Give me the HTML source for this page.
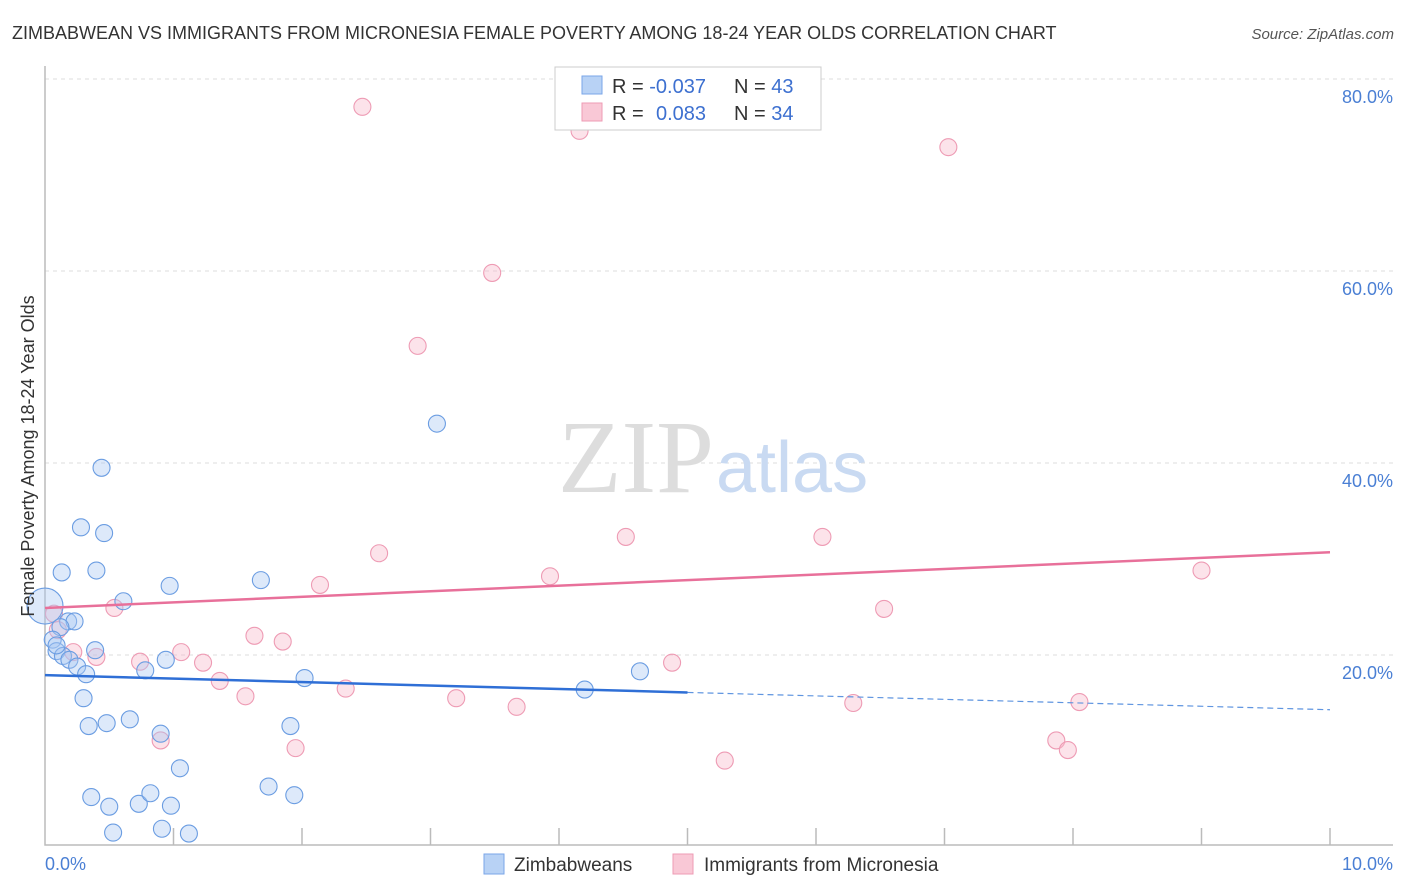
<!DOCTYPE html>
<html><head><meta charset="utf-8"><style>
body{margin:0;background:#fff;font-family:"Liberation Sans",sans-serif;}
svg{display:block}
</style></head><body>
<svg width="1406" height="892" xmlns="http://www.w3.org/2000/svg">
<text x="12" y="39" font-size="18" fill="#333">ZIMBABWEAN VS IMMIGRANTS FROM MICRONESIA FEMALE POVERTY AMONG 18-24 YEAR OLDS CORRELATION CHART</text>
<text x="1394" y="39" font-size="15" fill="#555" font-style="italic" text-anchor="end">Source: ZipAtlas.com</text>
<g id="grid"></g>
<text x="714" y="492" font-size="104" fill="#ddd" text-anchor="end" font-family="Liberation Serif,serif">ZIP</text>
<text x="716" y="492" font-size="72" fill="#c9daf2">atlas</text>
<g id="marks"></g>
<text transform="translate(34,456) rotate(-90)" font-size="18" fill="#333" text-anchor="middle">Female Poverty Among 18-24 Year Olds</text>
<g>
<rect x="555" y="67" width="266" height="63" fill="#fff" stroke="#ccc"/>
<rect x="582" y="76" width="20" height="18" fill="#b8d2f5" stroke="#7aa6e8"/>
<rect x="582" y="103" width="20" height="18" fill="#f9c8d6" stroke="#ee9bb4"/>
<text x="612" y="93" font-size="20" fill="#333">R = <tspan fill="#3d70d0">-0.037</tspan></text>
<text x="734" y="93" font-size="20" fill="#333">N = <tspan fill="#3d70d0">43</tspan></text>
<text x="612" y="120" font-size="20" fill="#333">R = <tspan x="656" fill="#3d70d0">0.083</tspan></text>
<text x="734" y="120" font-size="20" fill="#333">N = <tspan fill="#3d70d0">34</tspan></text>
</g>
<g>
<rect x="484" y="854" width="20" height="20" fill="#b8d2f5" stroke="#7aa6e8"/>
<text x="514" y="871" font-size="19" fill="#333">Zimbabweans</text>
<rect x="673" y="854" width="20" height="20" fill="#f9c8d6" stroke="#ee9bb4"/>
<text x="704" y="871" font-size="19" fill="#333">Immigrants from Micronesia</text>
</g>
<text x="45" y="870" font-size="18" fill="#4a7fd4">0.0%</text>
<text x="1393" y="870" font-size="18" fill="#4a7fd4" text-anchor="end">10.0%</text>
</svg>
<script>
const yTicks=[20,40,60,80];
const yTickLabels=["20.0%","40.0%","60.0%","80.0%"];
const blueX=[0.44,3.05,0.28,0.46,0.13,0.40,0.97,1.68,0.61,0.18,0.23,0.12,0.06,0.09,0.39,0.14,0.19,0.25,0.32,0.78,0.94,2.02,4.20,4.63,0.30,0.34,0.48,0.66,0.90,1.91,1.05,1.74,1.94,0.36,0.50,0.73,0.82,0.98,0.53,0.91,1.12,0.09];
const blueY=[39.5,44.1,33.3,32.7,28.6,28.8,27.2,27.8,25.6,23.5,23.5,22.9,21.6,20.4,20.5,19.9,19.5,18.8,18.0,18.4,19.5,17.6,16.4,18.3,15.5,12.6,12.9,13.3,11.8,12.6,8.2,6.3,5.4,5.2,4.2,4.5,5.6,4.3,1.5,1.9,1.4,21.0];
const blueBigX=[0.0], blueBigY=[25.1];
const pinkX=[2.47,4.16,7.03,3.48,2.90,2.60,4.52,6.05,3.93,2.14,9.00,6.53,0.54,0.07,0.10,1.63,1.85,0.22,0.40,1.06,0.74,1.23,4.88,1.36,1.56,2.34,3.20,3.67,6.29,8.05,0.90,1.95,5.29,7.87,7.96];
const pinkY=[77.1,74.6,72.9,59.8,52.2,30.6,32.3,32.3,28.2,27.3,28.8,24.8,24.9,24.3,22.6,22.0,21.4,20.3,19.8,20.3,19.3,19.2,19.2,17.3,15.7,16.5,15.5,14.6,15.0,15.1,11.1,10.3,9.0,11.1,10.1];
const blueTrend=[17.9,14.3], pinkTrend=[24.9,30.7];
const xTicks=[1,2,3,4,5,6,7,8,9,10];
const NS="http://www.w3.org/2000/svg";
const X=v=>45+v*128.5, Y=v=>847-v*9.6;
function mk(t,a,p){const e=document.createElementNS(NS,t);for(const k in a)e.setAttribute(k,a[k]);p.appendChild(e);return e;}
const g=document.getElementById('grid'), m=document.getElementById('marks');
yTicks.forEach((t,i)=>{
 const l=mk('line',{x1:45,x2:1393,y1:Y(t),y2:Y(t),stroke:'#ddd','stroke-dasharray':'4,4'},g);
 
 
 const tx=mk('text',{x:1393,y:Y(t)+24,'font-size':18,fill:'#4a7fd4','text-anchor':'end'},g);
 tx.textContent=yTickLabels[i];
 
 
});
const ax=mk('path',{d:'M45 66V845H1393',fill:'none',stroke:'#bbb','stroke-width':1.5},g);


xTicks.forEach(t=>{
 const l=mk('line',{x1:X(t),x2:X(t),y1:828,y2:845,stroke:'#bbb','stroke-width':1.5},g);
 
 
});
function dots(xs,ys,r,fill,stroke,name){xs.forEach((x,i)=>{
 const c=mk('circle',{cx:X(x),cy:Y(ys[i]),r:r,fill:fill,'fill-opacity':0.4,stroke:stroke,'stroke-width':1.1},m);
 
 
});}
dots(pinkX,pinkY,8.5,'#f7b8cb','#ee9bb4','micronesia-point');
dots(blueX,blueY,8.5,'#a9c9f2','#6b9de2','zimbabwean-point');
dots(blueBigX,blueBigY,18,'#a9c9f2','#6b9de2','zimbabwean-point');
const bAt=v=>blueTrend[0]+(blueTrend[1]-blueTrend[0])*v/10;
let l=mk('line',{x1:X(0),y1:Y(bAt(0)),x2:X(5),y2:Y(bAt(5)),stroke:'#2f6fd6','stroke-width':2.5},m);


l=mk('line',{x1:X(5),y1:Y(bAt(5)),x2:X(10),y2:Y(bAt(10)),stroke:'#5f95e0','stroke-width':1.2,'stroke-dasharray':'6,4'},m);


l=mk('line',{x1:X(0),y1:Y(pinkTrend[0]),x2:X(10),y2:Y(pinkTrend[1]),stroke:'#e8709a','stroke-width':2.5},m);


</script>
</body></html>
